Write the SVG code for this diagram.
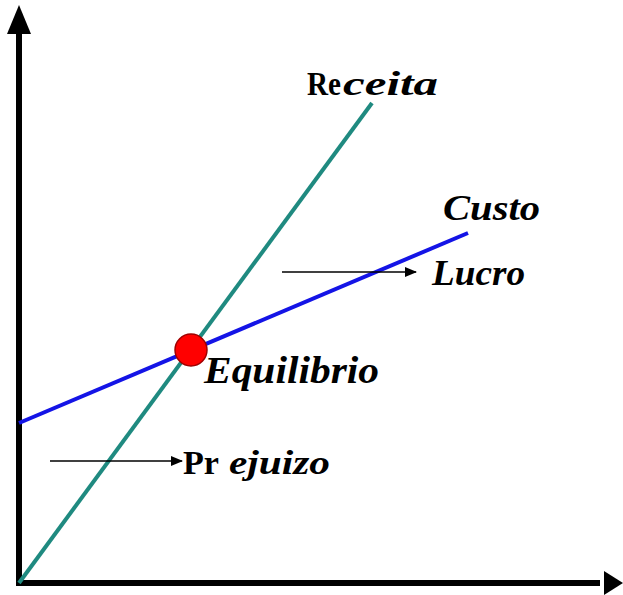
<svg xmlns="http://www.w3.org/2000/svg" width="623" height="595" viewBox="0 0 623 595">
<style>
.lbl{font-family:"Liberation Serif","Times New Roman",serif;font-weight:bold;fill:#000}
.it{font-style:italic}
.ax{stroke:#000;stroke-width:6;fill:none}
.thin{stroke:#000;stroke-width:1.5;fill:none}
</style>
<defs>
<marker id="ah" markerWidth="12" markerHeight="10" refX="11" refY="5" orient="auto" markerUnits="userSpaceOnUse">
<path d="M0,0 L12,5 L0,10 Z" fill="#000"/>
</marker>
</defs>
<rect width="623" height="595" fill="#fff"/>
<g id="axes">
<line class="ax" x1="19" y1="30" x2="19" y2="586"/>
<polygon points="19,5 7,34 31,34" fill="#000"/>
<line class="ax" x1="16" y1="583" x2="600" y2="583"/>
<polygon points="623,583 604,571 604,595" fill="#000"/>
</g>
<g id="connectors">
<line x1="19" y1="583" x2="372" y2="103" stroke="#1f8a80" stroke-width="4"/>
<line x1="19" y1="423" x2="468" y2="233" stroke="#1414e6" stroke-width="4"/>
<line class="thin" x1="282" y1="272" x2="416" y2="272" marker-end="url(#ah)"/>
<line class="thin" x1="50" y1="461" x2="182" y2="461" marker-end="url(#ah)"/>
</g>
<g id="equilibrio-point">
<circle cx="191" cy="350" r="16" fill="#ff0000" stroke="#a00000" stroke-width="1.5"/>
</g>
<g id="receita">
<text class="lbl" y="95" font-size="33"><tspan x="307" textLength="34" lengthAdjust="spacingAndGlyphs">Re</tspan><tspan class="it" x="343" textLength="95" lengthAdjust="spacingAndGlyphs">ceita</tspan></text>
</g>
<g id="custo">
<text class="lbl it" x="443" y="220" font-size="35" textLength="97" lengthAdjust="spacingAndGlyphs">Custo</text>
</g>
<g id="lucro">
<text class="lbl it" x="432" y="285" font-size="35" textLength="93" lengthAdjust="spacingAndGlyphs">Lucro</text>
</g>
<g id="equilibrio">
<text class="lbl it" x="204" y="383" font-size="37" textLength="175" lengthAdjust="spacingAndGlyphs">Equilibrio</text>
</g>
<g id="prejuizo">
<text class="lbl" y="474" font-size="33"><tspan x="183" textLength="36" lengthAdjust="spacingAndGlyphs">Pr</tspan><tspan class="it" x="229" textLength="101" lengthAdjust="spacingAndGlyphs">ejuizo</tspan></text>
</g>
</svg>
